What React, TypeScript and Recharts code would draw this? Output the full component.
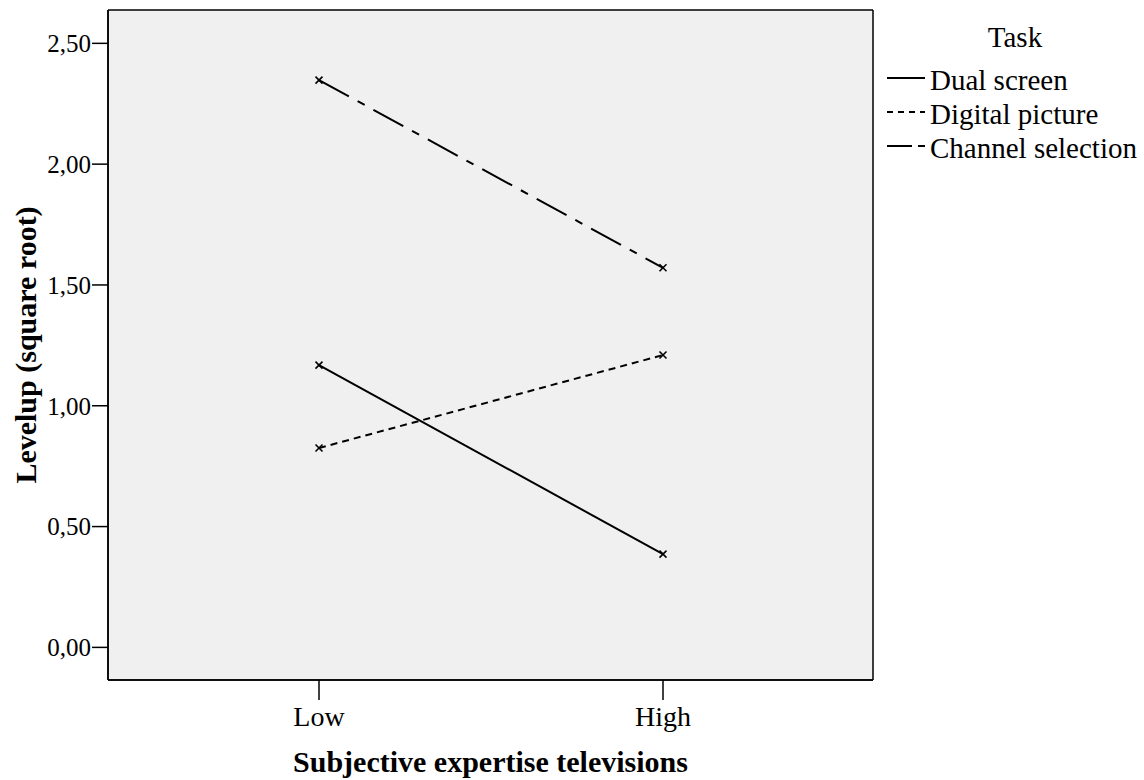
import { LineChart, Line, XAxis, YAxis, CartesianGrid, Legend, Label } from 'recharts';

const categories = ['Low', 'High'];
const dualScreen = [1.168, 0.386];
const digitalPicture = [0.825, 1.21];
const channelSelection = [2.348, 1.571];
const yTicks = [0, 0.5, 1, 1.5, 2, 2.5];

const series = [
  { key: 'dual', name: 'Dual screen', values: dualScreen, dash: undefined as string | undefined },
  { key: 'digital', name: 'Digital picture', values: digitalPicture, dash: '7 5' },
  { key: 'channel', name: 'Channel selection', values: channelSelection, dash: '34 10 8 10' },
];

const data = categories.map((category, i) => {
  const row: Record<string, string | number> = { category };
  series.forEach((s) => {
    row[s.key] = s.values[i];
  });
  return row;
});

const FONT = 'Liberation Serif, Tinos, Times New Roman, DejaVu Serif, serif';

const Cross = (props: any) => {
  const { cx, cy } = props;
  if (cx == null || cy == null) return null;
  const r = 3.5;
  return (
    <g stroke="#000" strokeWidth={1.6}>
      <line x1={cx - r} y1={cy - r} x2={cx + r} y2={cy + r} />
      <line x1={cx - r} y1={cy + r} x2={cx + r} y2={cy - r} />
    </g>
  );
};

const YTitle = (props: any) => {
  const vb = props.viewBox || {};
  const x = vb.x + 25;
  const y = vb.y + vb.height / 2;
  return (
    <text
      x={x}
      y={y}
      transform={`rotate(-90, ${x}, ${y})`}
      textAnchor="middle"
      dominantBaseline="central"
      style={{ fontFamily: FONT }}
      fontWeight="bold"
      fontSize={30}
      fill="#000"
    >
      Levelup (square root)
    </text>
  );
};

const LegendBox = () => (
  <svg width={264} height={170} style={{ display: 'block', fontFamily: FONT }}>
    <text x={135} y={27} textAnchor="middle" dominantBaseline="central" fontSize={29}>
      Task
    </text>
    {series.map((s, i) => {
      const y = 68 + i * 34;
      return (
        <g key={s.key}>
          <line x1={7} x2={45} y1={y} y2={y} stroke="#000" strokeWidth={2} strokeDasharray={s.key === 'digital' ? '6 5' : s.key === 'channel' ? '25 6 8 20' : undefined} />
          <text x={50} y={y + 2} dominantBaseline="central" fontSize={29}>
            {s.name}
          </text>
        </g>
      );
    })}
  </svg>
);

export default function App() {
  return (
    <div style={{ position: 'absolute', left: 0, top: 0, width: 1144, height: 780, background: '#fff', fontFamily: FONT }}>
      <LineChart width={1144} height={780} data={data} margin={{ top: 10, right: 271, bottom: 0, left: 0 }} style={{ fontFamily: FONT }}>
        <CartesianGrid
          fill="#f0f0f0"
          stroke="#000"
          strokeWidth={1.5}
          horizontalCoordinatesGenerator={({ offset }: any) => [offset.top, offset.top + offset.height]}
          verticalCoordinatesGenerator={({ offset }: any) => [offset.left, offset.left + offset.width]}
        />
        <XAxis
          dataKey="category"
          type="category"
          height={100}
          padding={{ left: 211, right: 210 }}
          tickSize={20}
          tickMargin={6}
          axisLine={{ stroke: '#000', strokeWidth: 1.5 }}
          tickLine={{ stroke: '#000', strokeWidth: 1.5 }}
          tick={{ fill: '#000', fontSize: 28, style: { fontFamily: FONT } }}
        >
          <Label
            value="Subjective expertise televisions"
            position="insideBottom"
            offset={8}
            fill="#000"
            style={{ fontFamily: FONT }}
            fontWeight="bold"
            fontSize={30}
          />
        </XAxis>
        <YAxis
          width={108}
          domain={[-0.135, 2.638]}
          allowDataOverflow
          ticks={yTicks}
          interval={0}
          tickSize={16}
          tickMargin={1}
          tickFormatter={(v: number) => v.toFixed(2).replace('.', ',')}
          axisLine={{ stroke: '#000', strokeWidth: 1.5 }}
          tickLine={{ stroke: '#000', strokeWidth: 1.5 }}
          tick={{ fill: '#000', fontSize: 25, style: { fontFamily: FONT } }}
        >
          <Label content={<YTitle />} />
        </YAxis>
        <Legend
          layout="horizontal"
          verticalAlign="middle"
          align="center"
          content={() => <LegendBox />}
          wrapperStyle={{ position: 'absolute', left: 880, top: 10, width: 264, height: 170 }}
        />
        {series.map((s) => (
          <Line
            key={s.key}
            dataKey={s.key}
            name={s.name}
            stroke="#000"
            strokeWidth={2}
            strokeDasharray={s.dash}
            dot={<Cross />}
            activeDot={false}
            isAnimationActive={false}
          />
        ))}
      </LineChart>
    </div>
  );
}
